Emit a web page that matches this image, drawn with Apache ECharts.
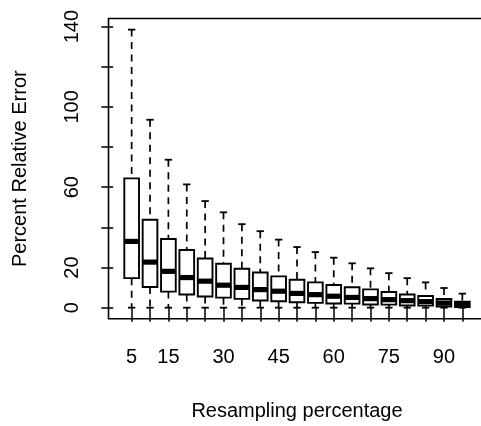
<!DOCTYPE html>
<html>
<head>
<meta charset="utf-8">
<style>
  html, body { margin: 0; padding: 0; background: #ffffff; }
  #chart { width: 481px; height: 426px; }
</style>
<script src="https://cdn.jsdelivr.net/npm/echarts@6/dist/echarts.min.js"></script>
</head>
<body>
<div id="chart"></div>
<script>
// Resampling percentage for each box
const percentages = [5, 10, 15, 20, 25, 30, 35, 40, 45, 50, 55, 60, 65, 70, 75, 80, 85, 90, 95];
// Five-number summaries of percent relative error
const whiskerLow    = [0, 0, 0, 0, 0, 0, 0, 0, 0, 0, 0, 0, 0, 0, 0, 0, 0, 0, 0];
const lowerQuartile = [14.7, 10.3, 8.0, 6.6, 5.6, 5.0, 4.4, 3.6, 3.2, 2.7, 2.4, 2.1, 2.0, 1.6, 1.5, 1.1, 1.0, 0.6, 0.3];
const medians       = [33.0, 22.7, 18.1, 15.0, 13.2, 11.2, 10.1, 9.0, 8.2, 7.1, 6.5, 5.7, 5.1, 4.5, 4.0, 3.5, 3.0, 2.3, 1.6];
const upperQuartile = [64.4, 43.8, 34.2, 28.7, 24.5, 21.9, 19.4, 17.5, 15.6, 13.9, 12.6, 11.3, 10.2, 9.1, 7.8, 6.6, 5.8, 4.3, 3.0];
const whiskerHigh   = [138.5, 93.6, 73.7, 61.4, 53.1, 47.5, 41.6, 38.1, 33.9, 30.2, 27.7, 24.9, 22.1, 19.6, 17.2, 14.7, 12.6, 9.8, 7.0];

// Axis ticks and the labels that are printed
const yTicks = [0, 20, 40, 60, 80, 100, 120, 140];
const yLabels = [0, 20, 60, 100, 140];
const xLabels = [5, 15, 30, 45, 60, 75, 90];

const FONT = '"Liberation Sans", Arial, Helvetica, sans-serif';

// axis limits padded by 4% of the data range on each side
const step = 5;
const xMin = percentages[0] - step * 0.5 - (percentages.length * step) * 0.04;
const xMax = percentages[percentages.length - 1] + step * 0.5 + (percentages.length * step) * 0.04;
const dataMax = Math.max(...whiskerHigh);
const dataMin = Math.min(...whiskerLow);
const yPad = (dataMax - dataMin) * 0.04;
const yMin = dataMin - yPad;
const yMax = dataMax + yPad;

const boxData = percentages.map((p, i) => [
  p, whiskerLow[i], lowerQuartile[i], medians[i], upperQuartile[i], whiskerHigh[i]
]);

function renderBox(params, api) {
  const x = api.value(0);
  const lo = api.coord([x, api.value(1)]);
  const q1 = api.coord([x, api.value(2)]);
  const md = api.coord([x, api.value(3)]);
  const q3 = api.coord([x, api.value(4)]);
  const hi = api.coord([x, api.value(5)]);
  const bw = api.size([step, 0])[0] * 0.8;
  const cx = lo[0];
  const half = bw / 2;
  const staple = bw / 4;
  const dash = { stroke: '#000', lineWidth: 1.7, lineDash: [7, 5.5] };
  const solid = { stroke: '#000', lineWidth: 1.8 };
  return {
    type: 'group',
    children: [
      { type: 'line', shape: { x1: cx, y1: hi[1], x2: cx, y2: q3[1] }, style: dash },
      { type: 'line', shape: { x1: cx, y1: q1[1], x2: cx, y2: lo[1] }, style: dash },
      { type: 'line', shape: { x1: cx - staple, y1: hi[1], x2: cx + staple, y2: hi[1] }, style: solid },
      { type: 'line', shape: { x1: cx - staple, y1: lo[1], x2: cx + staple, y2: lo[1] }, style: solid },
      { type: 'rect', shape: { x: cx - half, y: q3[1], width: bw, height: q1[1] - q3[1] },
        style: { fill: '#fff', stroke: '#000', lineWidth: 1.9 } },
      { type: 'line', shape: { x1: cx - half, y1: md[1], x2: cx + half, y2: md[1] },
        style: { stroke: '#000', lineWidth: 5.2 } }
    ]
  };
}

const chart = echarts.init(document.getElementById('chart'), null, { renderer: 'canvas' });
chart.setOption({
  animation: false,
  backgroundColor: '#ffffff',
  grid: {
    left: 108.5, top: 18.5, width: 377, height: 300.3,
    outerBoundsMode: 'none',
    containLabel: false,
    show: true, borderColor: '#000', borderWidth: 1.6, backgroundColor: 'transparent'
  },
  xAxis: {
    type: 'value',
    min: xMin, max: xMax,
    name: 'Resampling percentage',
    nameLocation: 'middle',
    nameGap: 83,
    nameTextStyle: { fontFamily: FONT, fontSize: 20, color: '#000' },
    axisLine: { show: false },
    splitLine: { show: false },
    axisTick: {
      show: true, inside: false, length: 14,
      customValues: percentages,
      lineStyle: { color: '#000', width: 1.5 }
    },
    axisLabel: {
      show: true, margin: 29,
      customValues: xLabels,
      fontFamily: FONT, fontSize: 20, color: '#000'
    }
  },
  yAxis: {
    type: 'value',
    min: yMin, max: yMax,
    name: 'Percent Relative Error',
    nameLocation: 'middle',
    nameGap: 78,
    nameTextStyle: { fontFamily: FONT, fontSize: 20, color: '#000' },
    axisLine: { show: false },
    splitLine: { show: false },
    axisTick: {
      show: true, inside: false, length: 12,
      customValues: yTicks,
      lineStyle: { color: '#000', width: 1.5 }
    },
    axisLabel: {
      show: true, margin: 26, rotate: 90,
      customValues: yLabels,
      fontFamily: FONT, fontSize: 20, color: '#000'
    }
  },
  series: [{
    type: 'custom',
    renderItem: renderBox,
    encode: { x: 0, y: [1, 2, 3, 4, 5] },
    data: boxData,
    clip: false
  }]
});
</script>
</body>
</html>
